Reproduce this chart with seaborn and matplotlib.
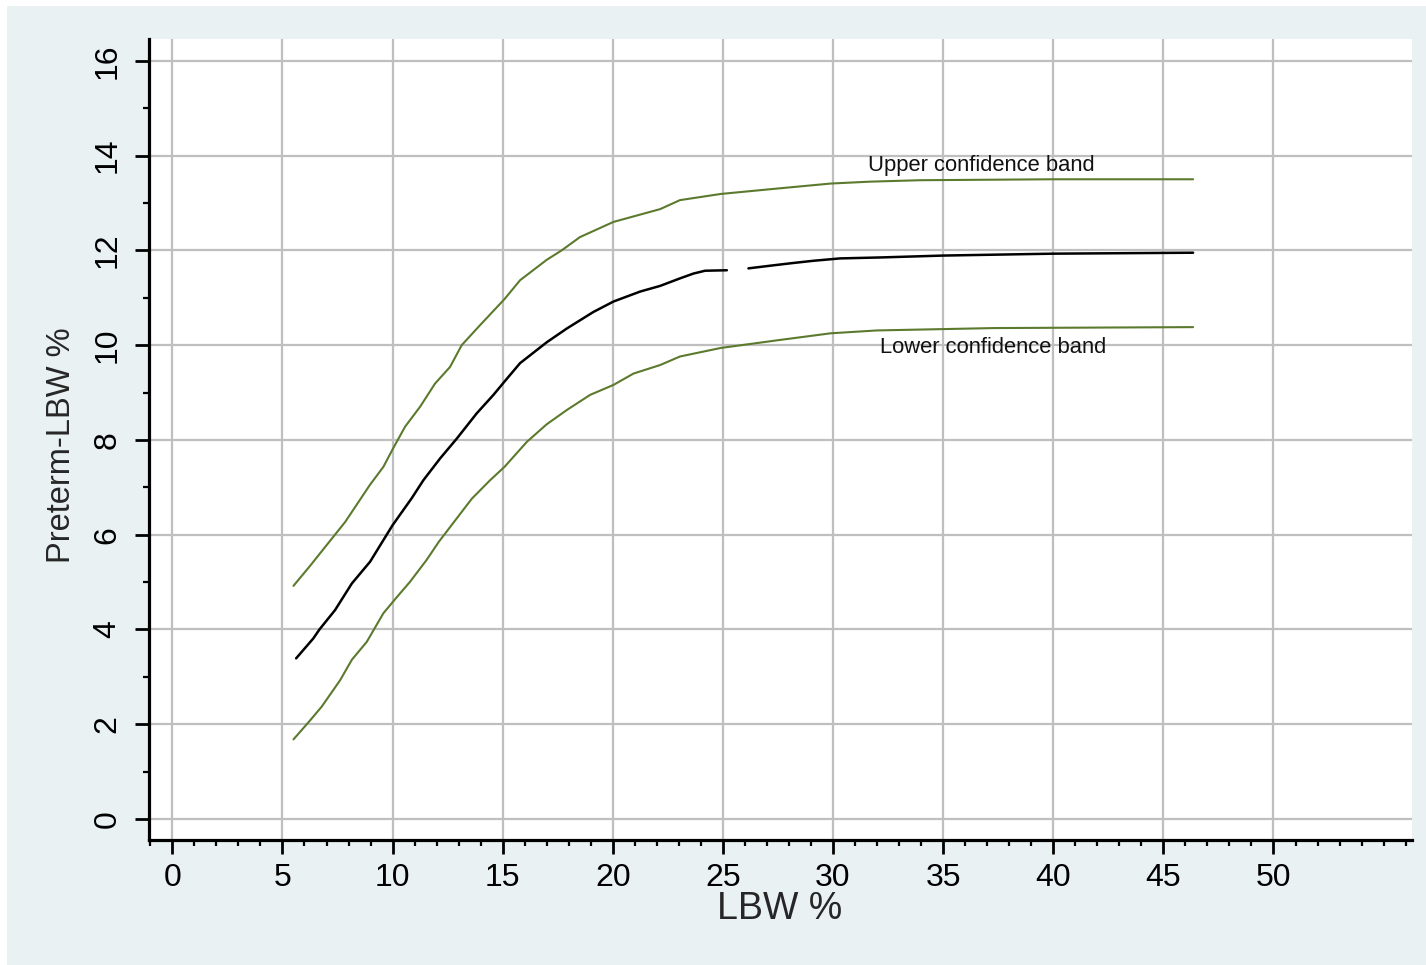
import numpy as np
import pandas as pd
import matplotlib
matplotlib.use("Agg")
import matplotlib.pyplot as plt
from matplotlib.ticker import MultipleLocator
from matplotlib.patches import Rectangle
import seaborn as sns

# ---- data ----
mid_x = [5.62, 6.4, 6.68, 7.39, 8.15, 8.98, 10.0, 10.87, 11.4, 12.16, 12.92, 13.82, 14.58,
         15.08, 15.79, 17.0, 17.91, 19.12, 20.03, 21.24, 22.15, 23.06, 23.66, 24.19, 25.18,
         26.16, 27.22, 28.13, 29.11, 30.32, 32.14, 35.0, 40.0, 46.35]
mid_y = [3.39, 3.81, 4.0, 4.41, 4.97, 5.43, 6.2, 6.77, 7.15, 7.61, 8.03, 8.56, 8.95,
         9.23, 9.62, 10.06, 10.35, 10.7, 10.92, 11.13, 11.25, 11.41, 11.51, 11.57, 11.58,
         11.62, 11.68, 11.73, 11.78, 11.83, 11.85, 11.89, 11.93, 11.95]
mid_seg = [0] * 25 + [1] * 9

upper_x = [5.5, 6.25, 7.85, 8.97, 9.58, 10.07, 10.57, 11.25, 11.93, 12.61, 13.14, 13.97,
           15.08, 15.79, 17.0, 17.68, 18.51, 20.03, 22.15, 23.05, 24.9, 27.6, 29.9, 31.7,
           33.95, 40.0, 46.35]
upper_y = [4.92, 5.34, 6.27, 7.05, 7.43, 7.86, 8.28, 8.70, 9.19, 9.54, 10.0, 10.42,
           10.97, 11.37, 11.80, 12.0, 12.28, 12.6, 12.87, 13.06, 13.19, 13.31, 13.41, 13.45,
           13.48, 13.5, 13.5]

lower_x = [5.5, 6.18, 6.78, 7.62, 8.15, 8.83, 9.58, 10.08, 10.8, 11.55, 12.1, 13.6, 14.43,
           15.08, 16.1, 17.0, 17.91, 18.97, 20.03, 20.94, 22.15, 23.05, 24.9, 27.6, 29.9,
           32.0, 37.3, 46.35]
lower_y = [1.68, 2.04, 2.37, 2.93, 3.36, 3.74, 4.34, 4.62, 5.01, 5.47, 5.85, 6.76, 7.15,
           7.43, 7.96, 8.33, 8.63, 8.95, 9.16, 9.40, 9.58, 9.76, 9.94, 10.11, 10.25,
           10.31, 10.36, 10.38]

x_ticks = list(range(0, 51, 5))
y_ticks = list(range(0, 17, 2))
x_label = "LBW %"
y_label = "Preterm-LBW %"
upper_text = "Upper confidence band"
lower_text = "Lower confidence band"

# ---- style ----
sns.set_theme(style="white")
plt.rcParams["font.family"] = ["Liberation Sans", "DejaVu Sans"]

GREEN = "#5b7a2e"
BG = "#e9f1f3"

fig = plt.figure(figsize=(14.26, 9.65), dpi=100, facecolor="white")
fig.patches.append(Rectangle((7 / 1426, 0), 1 - 7 / 1426, 1 - 6 / 965,
                             transform=fig.transFigure, facecolor=BG,
                             edgecolor="none", zorder=-10))

W, H = 1426, 965
ax = fig.add_axes([149 / W, 1 - 840 / H, (1412 - 149) / W, (840 - 39) / H])
ax.set_facecolor("white")

df_mid = pd.DataFrame({"x": mid_x, "y": mid_y, "seg": mid_seg})
df_up = pd.DataFrame({"x": upper_x, "y": upper_y})
df_lo = pd.DataFrame({"x": lower_x, "y": lower_y})

sns.lineplot(data=df_up, x="x", y="y", color=GREEN, lw=1.5, ax=ax, zorder=3)
sns.lineplot(data=df_lo, x="x", y="y", color=GREEN, lw=1.5, ax=ax, zorder=3)
sns.lineplot(data=df_mid, x="x", y="y", units="seg", estimator=None,
             color="black", lw=1.8, ax=ax, zorder=4)

ax.set_xlim(-1.06, 56.29)
ax.set_ylim(-0.443, 16.46)
ax.set_xticks(x_ticks)
ax.set_yticks(y_ticks)
ax.xaxis.set_minor_locator(MultipleLocator(1))
ax.yaxis.set_minor_locator(MultipleLocator(1))

ax.grid(True, which="major", color="#bfbfbf", lw=1.6)
ax.set_axisbelow(True)

for s in ["top", "right"]:
    ax.spines[s].set_visible(False)
for s in ["left", "bottom"]:
    ax.spines[s].set_color("black")
    ax.spines[s].set_linewidth(2.3)

ax.tick_params(axis="both", which="both", bottom=True, left=True, top=False, right=False)
ax.tick_params(axis="both", which="major", direction="out", length=10, width=2.0,
               color="black", labelsize=23, labelcolor="black")
ax.tick_params(axis="both", which="minor", direction="out", length=4.5, width=1.6,
               color="black")
ax.tick_params(axis="x", which="major", pad=6.5)
ax.tick_params(axis="y", which="major", pad=9, labelrotation=90)
ax.set_xticklabels([str(t) for t in x_ticks])
ax.set_yticklabels([str(t) for t in y_ticks], va="center")

ax.set_xlabel(x_label, fontsize=27, va="center")
ax.set_ylabel(y_label, fontsize=23.5, va="center")
ax.xaxis.set_label_coords((780 - 149) / 1263, (840 - 909) / 801)
ax.yaxis.set_label_coords((61.5 - 149) / 1263, (840 - 445) / 801)

ax.text(31.59, 13.67, upper_text, fontsize=15.8, color="#111111", va="baseline", ha="left")
ax.text(32.14, 9.83, lower_text, fontsize=15.8, color="#111111", va="baseline", ha="left")

fig.savefig("out.png", dpi=100, facecolor=fig.get_facecolor())
